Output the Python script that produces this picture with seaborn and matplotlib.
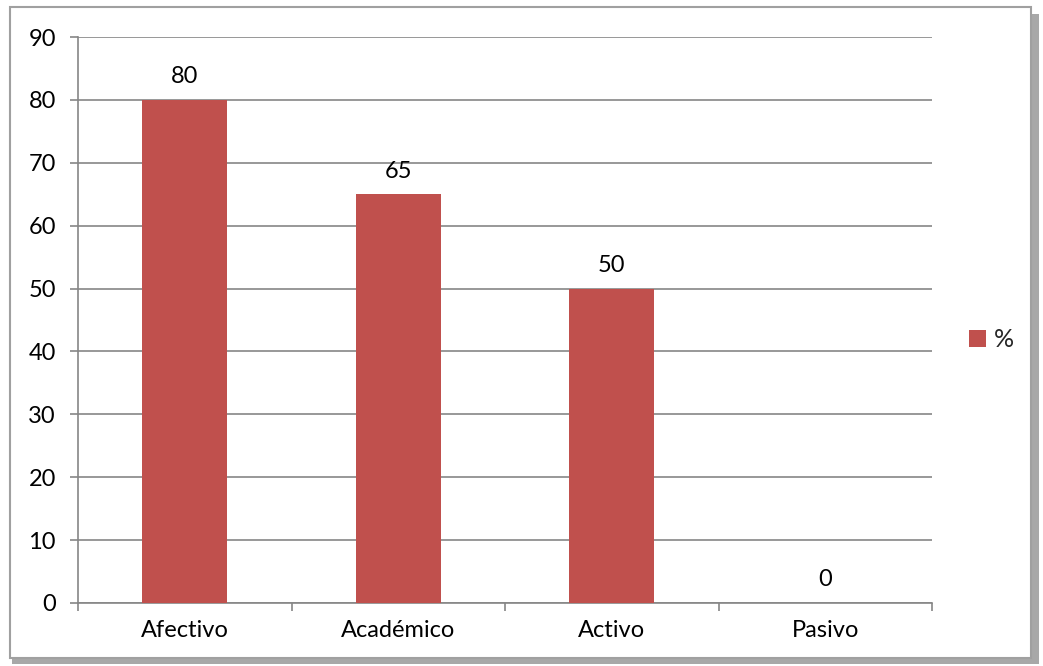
import matplotlib.pyplot as plt
import matplotlib.patches as mpatches
import seaborn as sns

categories = ["Afectivo", "Académico", "Activo", "Pasivo"]
values = [80, 65, 50, 0]
series_name = "%"

sns.set_theme(style="white")
plt.rcParams['font.family'] = ['Lato', 'DejaVu Sans']

bar_color = "#C0504D"
grid_color = "#868686"
fs = 17

fig = plt.figure(figsize=(10.43, 6.66), dpi=100)
ax = fig.add_axes([0.0748, 0.0946, 0.8188, 0.8498])

sns.barplot(x=categories, y=values, color=bar_color, width=0.4,
            saturation=1, label=series_name, ax=ax, zorder=3, linewidth=0)

ax.set_ylim(0, 90)
ax.set_yticks(range(0, 91, 10))
ax.set_xlim(-0.5, len(categories) - 0.5)
ax.yaxis.grid(True, color=grid_color, linewidth=1.2, zorder=0)
ax.set_axisbelow(True)
for s in ["top", "right"]:
    ax.spines[s].set_visible(False)
for s in ["left", "bottom"]:
    ax.spines[s].set_color(grid_color)
    ax.spines[s].set_linewidth(1.2)

ax.tick_params(axis="y", which="both", length=6, width=1.2, color=grid_color,
               labelsize=fs, labelcolor="black", left=True, pad=10)
# category labels without tick marks, tick marks at category boundaries
ax.tick_params(axis="x", which="major", length=0, labelsize=fs,
               labelcolor="black", pad=12)
ax.set_xticks([i - 0.5 for i in range(len(categories) + 1)], minor=True)
ax.tick_params(axis="x", which="minor", length=6, width=1.2,
               color=grid_color, bottom=True)
ax.set_xlabel("")
ax.set_ylabel("")

for c in ax.containers:
    ax.bar_label(c, labels=[str(v) for v in values], padding=9, fontsize=fs,
                 color="black")

ax.legend(loc="center left", bbox_to_anchor=(1.043, 0.465), frameon=False,
          fontsize=fs + 1, handlelength=0.7, handleheight=0.7, handletextpad=0.3,
          borderaxespad=0, borderpad=0)

# chart frame with shadow
fig.patches.append(mpatches.Rectangle((12 / 1043, 1 - 664 / 666), 1027 / 1043, 650 / 666,
                                      transform=fig.transFigure, facecolor="#a8a8a8",
                                      edgecolor="none", zorder=-2))
fig.patches.append(mpatches.Rectangle((10 / 1043, 1 - 658 / 666), 1021 / 1043, 651 / 666,
                                      transform=fig.transFigure, facecolor="white",
                                      edgecolor="#a0a0a0", linewidth=1.5, zorder=-1))

fig.savefig("out.png", dpi=100)
